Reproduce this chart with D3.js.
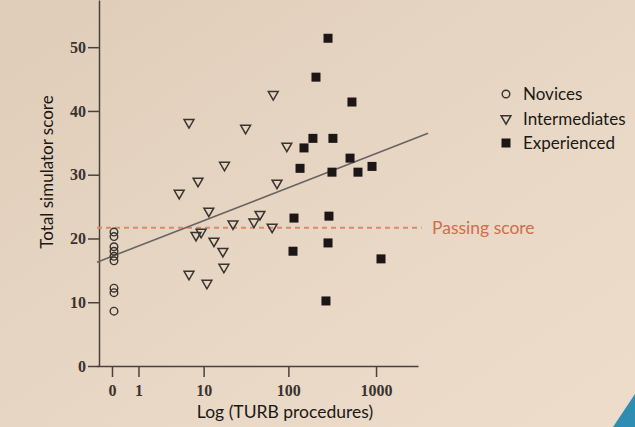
<!DOCTYPE html>
<html>
<head>
<meta charset="utf-8">
<script src="https://cdn.jsdelivr.net/npm/d3@7"></script>
<style>
  html, body { margin: 0; padding: 0; background: #e6d6c3; }
  svg { display: block; }
  .tick text { font-family: "Liberation Serif", serif; font-size: 16px; font-weight: bold; fill: #3a332f; }
  .label { font-family: Lato, "Open Sans", sans-serif; fill: #1c1816; }
</style>
</head>
<body>
<div id="chart"></div>
<script>
// valores (procedimentos TURB e escore total)
var noviceProcedures = [0, 0, 0, 0, 0, 0, 0, 0, 0];
var noviceScores = [21.0, 20.3, 18.7, 18.0, 17.2, 16.5, 12.2, 11.5, 8.6];

var intermediateProcedures = [67, 6.5, 32, 96, 18, 8.5, 74, 4.8, 11.6, 47, 40, 22.7, 65, 9.3, 8, 13.4, 17.2, 17.7, 6.5, 11];
var intermediateScores = [42.6, 38.2, 37.3, 34.5, 31.5, 29.0, 28.7, 27.1, 24.3, 23.8, 22.6, 22.3, 21.8, 21.0, 20.5, 19.6, 18.0, 15.5, 14.4, 13.0];

var experiencedProcedures = [284, 207, 532, 191, 323, 151, 136, 506, 900, 315, 623, 116, 291, 113, 284, 1139, 269];
var experiencedScores = [51.4, 45.3, 41.4, 35.7, 35.7, 34.2, 31.0, 32.6, 31.3, 30.4, 30.4, 23.2, 23.5, 18.0, 19.3, 16.8, 10.2];

var passingScore = 21.7;
var regIntercept = 17.2; // escore = a + b * log10(n + 1)
var regSlope = 5.37;
var regRange = [-0.48, 3900];

var xTicks = [0, 1, 10, 100, 1000];
var yTicks = [0, 10, 20, 30, 40, 50];
var legendNames = ["Novices", "Intermediates", "Experienced"];

var W = 635, H = 427;
var svg = d3.select("#chart").append("svg")
    .attr("width", W)
    .attr("height", H);

// fundo com leve gradiente (foto do slide)
var grad = svg.append("defs").append("linearGradient")
    .attr("id", "bg").attr("x1", "0").attr("y1", "0").attr("x2", "1").attr("y2", "1");
grad.append("stop").attr("offset", "0%").attr("stop-color", "#dfcdb9");
grad.append("stop").attr("offset", "60%").attr("stop-color", "#e8d8c5");
grad.append("stop").attr("offset", "100%").attr("stop-color", "#ecdcc9");
svg.append("rect").attr("width", W).attr("height", H).attr("fill", "url(#bg)");

// canto azul do slide
svg.append("path")
    .attr("d", "M613,427 L635,394 L635,427 Z")
    .attr("fill", "#2f8db3");

// escalas: eixo x e log10(n + 1)
var xScale = d3.scaleSymlog().constant(1).domain([-0.48, 3000]).range([97, 418]);
var yScale = d3.scaleLinear().domain([0, 57.4]).range([366, 0]);

var regY = function(n) {
    var L = Math.sign(n) * Math.log10(1 + Math.abs(n));
    return regIntercept + regSlope * L;
};

// eixos
var xAxis = d3.axisBottom(xScale).tickValues(xTicks).tickFormat(d3.format("d"))
    .tickSizeInner(11).tickSizeOuter(0).tickPadding(5);
var yAxis = d3.axisLeft(yScale).tickValues(yTicks)
    .tickSizeInner(11).tickSizeOuter(0).tickPadding(2);

var gx = svg.append("g").attr("transform", "translate(0,366)").call(xAxis);
var gy = svg.append("g").attr("transform", "translate(99,0)").call(yAxis);
[gx, gy].forEach(function(g) {
    g.select(".domain").attr("stroke", "#4a423d").attr("stroke-width", 1.5);
    g.selectAll(".tick line").attr("stroke", "#4a423d").attr("stroke-width", 1.5);
});
gx.selectAll(".tick text").attr("dy", "0.9em");

// linha de aprovacao
svg.append("line")
    .attr("x1", xScale(-0.48)).attr("x2", xScale(3300))
    .attr("y1", yScale(passingScore)).attr("y2", yScale(passingScore))
    .attr("stroke", "#d98a6c").attr("stroke-width", 2)
    .attr("stroke-dasharray", "5,4");

svg.append("text")
    .attr("x", 432).attr("y", yScale(passingScore) + 6)
    .attr("font-family", "Lato, sans-serif").attr("font-size", 17.5)
    .attr("fill", "#d06e4c")
    .text("Passing score");

// regressao
svg.append("line")
    .attr("x1", xScale(regRange[0])).attr("y1", yScale(regY(regRange[0])))
    .attr("x2", xScale(regRange[1])).attr("y2", yScale(regY(regRange[1])))
    .attr("stroke", "#6b6461").attr("stroke-width", 1.6);

// pontos
var markStroke = "#3a3431";
var triangle = d3.symbol().type(d3.symbolTriangle).size(42);

svg.selectAll(".novice")
    .data(noviceProcedures.map(function(n, i) { return [n, noviceScores[i]]; }))
    .enter().append("circle")
    .attr("class", "novice")
    .attr("cx", function(d) { return xScale(d[0]) + 2; })
    .attr("cy", function(d) { return yScale(d[1]); })
    .attr("r", 3.8)
    .attr("fill", "none").attr("stroke", markStroke).attr("stroke-width", 1.4);

svg.selectAll(".inter")
    .data(intermediateProcedures.map(function(n, i) { return [n, intermediateScores[i]]; }))
    .enter().append("path")
    .attr("class", "inter")
    .attr("d", triangle)
    .attr("transform", function(d) {
        return "translate(" + xScale(d[0]) + "," + yScale(d[1]) + ") rotate(180)";
    })
    .attr("fill", "none").attr("stroke", markStroke).attr("stroke-width", 1.5);

svg.selectAll(".exp")
    .data(experiencedProcedures.map(function(n, i) { return [n, experiencedScores[i]]; }))
    .enter().append("rect")
    .attr("class", "exp")
    .attr("x", function(d) { return xScale(d[0]) - 4.5; })
    .attr("y", function(d) { return yScale(d[1]) - 4.5; })
    .attr("width", 9).attr("height", 9)
    .attr("fill", "#1c1616");

// titulos dos eixos
svg.append("text").attr("class", "label")
    .attr("transform", "translate(53,172) rotate(-90)")
    .attr("text-anchor", "middle").attr("font-size", 17)
    .text("Total simulator score");

svg.append("text").attr("class", "label")
    .attr("x", 285).attr("y", 418)
    .attr("text-anchor", "middle").attr("font-size", 17.5)
    .text("Log (TURB procedures)");

// legenda
var legend = svg.append("g").attr("transform", "translate(506,94)");
legendNames.forEach(function(name, i) {
    var g = legend.append("g").attr("transform", "translate(0," + (i * 24.5) + ")");
    if (i === 0) {
        g.append("circle").attr("r", 3.8).attr("fill", "none")
            .attr("stroke", markStroke).attr("stroke-width", 1.4);
    } else if (i === 1) {
        g.append("path").attr("d", triangle).attr("transform", "rotate(180)")
            .attr("fill", "none").attr("stroke", markStroke).attr("stroke-width", 1.5);
    } else {
        g.append("rect").attr("x", -4.5).attr("y", -4.5).attr("width", 9).attr("height", 9)
            .attr("fill", "#1c1616");
    }
    g.append("text").attr("class", "label")
        .attr("x", 17).attr("y", 6).attr("font-size", 17)
        .text(name);
});
</script>
</body>
</html>
